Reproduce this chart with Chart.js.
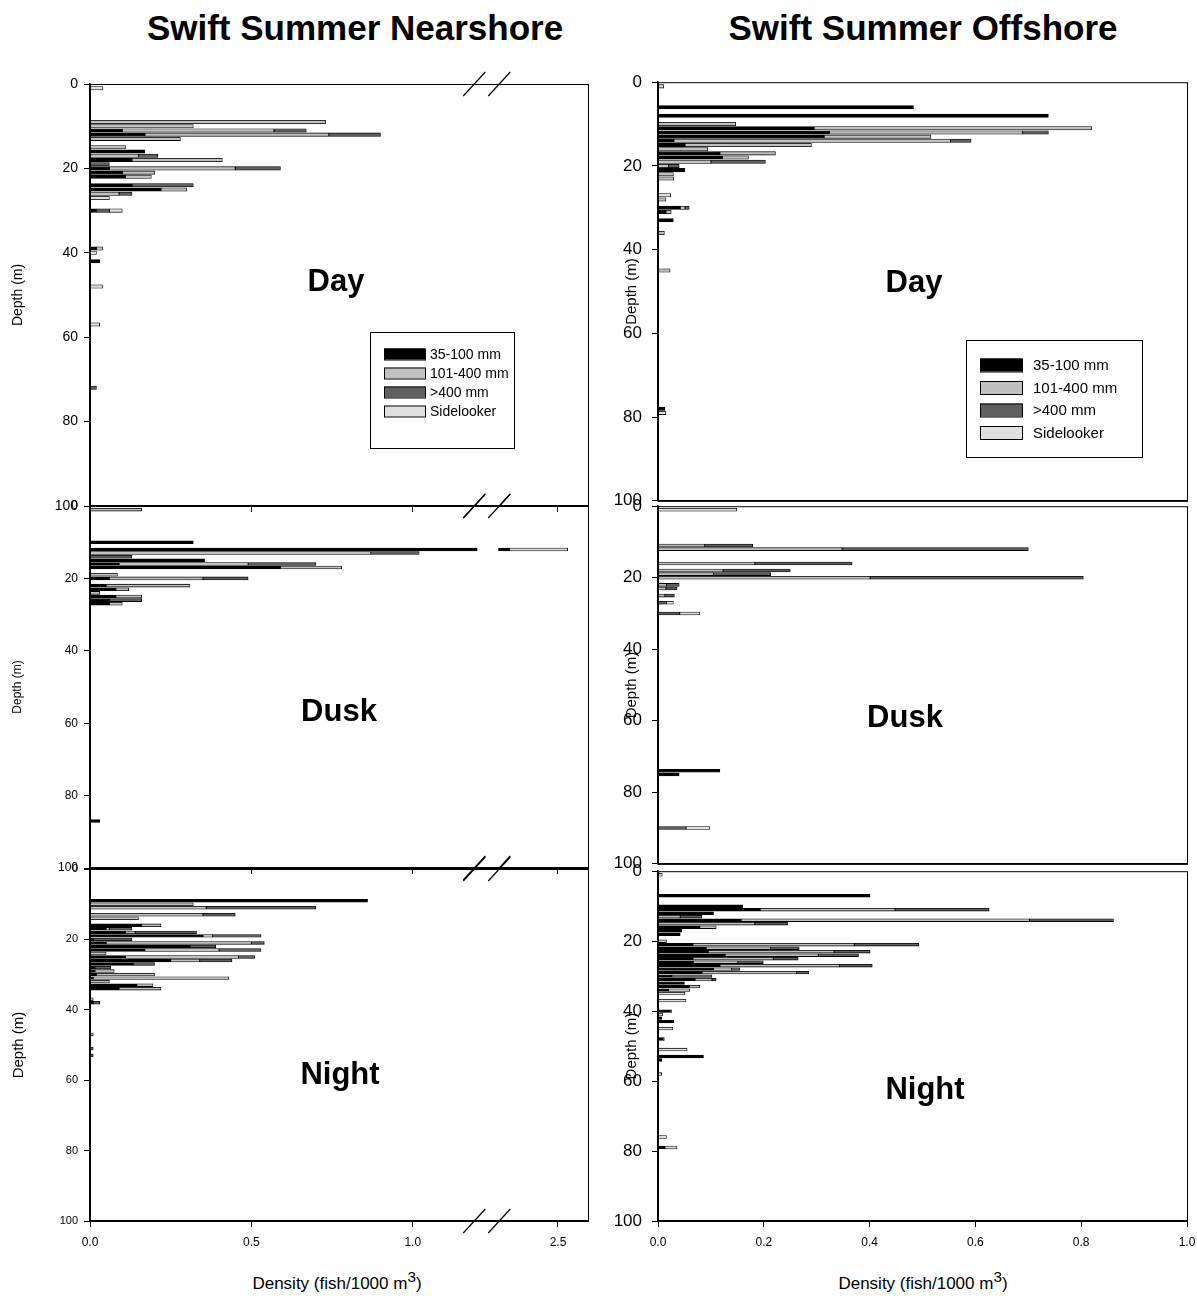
<!DOCTYPE html>
<html>
<head>
<meta charset="utf-8">
<script src="https://cdn.jsdelivr.net/npm/chart.js@4.4.0/dist/chart.umd.min.js"></script>
<style>
  body { margin: 0; background: #fff; width: 1197px; height: 1303px; position: relative; overflow: hidden;
         font-family: "Liberation Sans", Arial, sans-serif; }
  canvas { position: absolute; }
  .ttl { position: absolute; top: 28px; font-weight: bold; font-size: 35px; white-space: nowrap; transform: translate(-50%, -50%); }
  .xt { position: absolute; top: 1283px; font-size: 17px; white-space: nowrap; transform: translate(-50%, -50%); line-height: 1; }
  .xt sup { font-size: 90%; vertical-align: 0.45em; line-height: 0; }
</style>
</head>
<body>
<div class="ttl" style="left:355px">Swift Summer Nearshore</div>
<div class="ttl" style="left:923px">Swift Summer Offshore</div>
<div class="xt" style="left:337px">Density (fish/1000 m<sup>3</sup>)</div>
<div class="xt" style="left:923px">Density (fish/1000 m<sup>3</sup>)</div>
<script>
const FONT = '"Liberation Sans", Arial, sans-serif';
Chart.defaults.font.family = FONT;
Chart.defaults.color = '#000';

const seriesNames = ['35-100 mm', '101-400 mm', '>400 mm', 'Sidelooker'];
const seriesColors = ['#000000', '#c0c0c0', '#606060', '#e0e0e0'];

// ---- Nearshore, day ----
const nsDayDepth = [1, 9, 10, 11, 12, 13, 15, 16, 17, 18, 19, 20, 21, 22, 24, 25, 26, 27, 30, 39, 40, 42, 48, 57, 72];
const nsDaySmall = [0, 0, 0, 0.10, 0.17, 0, 0, 0.17, 0, 0.13, 0, 0.06, 0.10, 0.11, 0.13, 0.22, 0, 0, 0.02, 0.02, 0, 0.03, 0, 0, 0];
const nsDayMid   = [0, 0.73, 0.32, 0.47, 0.57, 0.28, 0.11, 0, 0.15, 0.28, 0, 0.39, 0.10, 0.08, 0, 0.08, 0.09, 0, 0, 0.02, 0, 0, 0, 0, 0];
const nsDayLarge = [0, 0, 0, 0.10, 0.16, 0, 0, 0, 0.06, 0, 0.06, 0.14, 0, 0, 0.19, 0, 0.04, 0, 0.04, 0, 0, 0, 0, 0, 0.02];
const nsDaySide  = [0.04, 0, 0, 0, 0, 0, 0, 0, 0, 0, 0, 0, 0, 0, 0, 0, 0, 0.06, 0.04, 0, 0.02, 0, 0.04, 0.03, 0];

// ---- Nearshore, dusk ----
const nsDuskDepth = [1, 10, 12, 13, 14, 15, 16, 17, 19, 20, 22, 23, 24, 25, 26, 27, 87];
const nsDuskSmall = [0, 0.32, 2.35, 0, 0, 0.355, 0.09, 0.59, 0, 0.06, 0.05, 0.08, 0, 0.08, 0.06, 0.06, 0.03];
const nsDuskMid   = [0.16, 0, 0, 0.87, 0, 0, 0.40, 0.19, 0.085, 0.29, 0.26, 0.04, 0.03, 0.08, 0, 0.04, 0];
const nsDuskLarge = [0, 0, 0, 0.15, 0.13, 0, 0.21, 0, 0, 0.14, 0, 0, 0, 0, 0.10, 0, 0];
const nsDuskSide  = [0, 0, 0.18, 0, 0, 0, 0, 0, 0, 0, 0, 0, 0, 0, 0, 0, 0];

// ---- Nearshore, night ----
const nsNightDepth = [9, 10, 11, 13, 14, 16, 17, 18, 19, 20, 21, 22, 23, 24, 25, 26, 27, 28, 29, 30, 31, 32, 33, 34, 37, 38, 47, 51, 53];
const nsNightSmall = [0.86, 0, 0, 0, 0, 0.16, 0.05, 0.11, 0.35, 0.01, 0.05, 0.31, 0.17, 0, 0.11, 0.25, 0.135, 0.015, 0.015, 0.02, 0.01, 0, 0.145, 0.09, 0, 0.01, 0, 0, 0];
const nsNightMid   = [0, 0.32, 0.36, 0.35, 0.15, 0.06, 0.01, 0.03, 0.03, 0, 0.45, 0, 0.23, 0.05, 0.35, 0.09, 0, 0, 0.06, 0.18, 0.42, 0.06, 0.05, 0.13, 0.01, 0, 0.01, 0, 0];
const nsNightLarge = [0, 0, 0.34, 0.10, 0, 0, 0.07, 0.19, 0.15, 0.12, 0.04, 0.08, 0.13, 0, 0.05, 0.10, 0.065, 0.05, 0, 0, 0, 0, 0, 0, 0, 0.02, 0, 0.01, 0.01];
const nsNightSide  = nsNightDepth.map(() => 0);

// ---- Offshore, day ----
const osDayDepth = [1, 6, 8, 10, 11, 12, 13, 14, 15, 16, 17, 18, 19, 20, 21, 22, 23, 27, 28, 30, 31, 33, 36, 45, 78, 79];
const osDaySmall = [0, 0.483, 0.738, 0, 0.295, 0.324, 0.314, 0.030, 0.051, 0, 0.117, 0.122, 0, 0, 0.051, 0, 0, 0, 0, 0.042, 0.015, 0.029, 0, 0, 0.013, 0];
const osDayMid   = [0, 0, 0, 0.147, 0.525, 0.365, 0.202, 0.523, 0.239, 0.094, 0.105, 0.049, 0.100, 0.020, 0, 0.029, 0.030, 0, 0.015, 0.009, 0.010, 0, 0.012, 0.023, 0, 0];
const osDayLarge = [0, 0, 0, 0, 0, 0.049, 0, 0.039, 0, 0, 0, 0, 0.103, 0.020, 0, 0, 0, 0, 0, 0.008, 0, 0, 0, 0, 0, 0];
const osDaySide  = [0.011, 0, 0, 0, 0, 0, 0, 0, 0, 0, 0, 0, 0, 0, 0, 0, 0, 0.024, 0, 0, 0, 0, 0, 0, 0, 0.015];

// ---- Offshore, dusk ----
const osDuskDepth = [1, 11, 12, 16, 18, 19, 20, 22, 23, 25, 27, 30, 74, 75, 90];
const osDuskSmall = [0, 0, 0, 0, 0, 0, 0, 0, 0, 0, 0, 0, 0.117, 0.040, 0];
const osDuskMid   = [0, 0.088, 0.348, 0.183, 0.123, 0.105, 0.401, 0.016, 0.015, 0.013, 0, 0, 0, 0, 0];
const osDuskLarge = [0, 0.091, 0.352, 0.184, 0.127, 0.108, 0.403, 0.024, 0.021, 0.018, 0.016, 0.041, 0, 0, 0.053];
const osDuskSide  = [0.149, 0, 0, 0, 0, 0, 0, 0, 0, 0, 0.013, 0.038, 0, 0, 0.045];

// ---- Offshore, night ----
const osNightDepth = [1, 7, 10, 11, 12, 13, 14, 15, 16, 17, 18, 20, 21, 22, 23, 24, 25, 26, 27, 28, 29, 30, 31, 32, 33, 34, 35, 37, 40, 41, 42, 43, 45, 48, 51, 53, 54, 58, 76, 79];
const osNightSmall = [0, 0.401, 0.160, 0.193, 0.105, 0, 0.157, 0, 0.079, 0.045, 0.042, 0, 0.066, 0.091, 0.095, 0.127, 0.066, 0.067, 0.117, 0.105, 0.083, 0.026, 0.070, 0.050, 0.059, 0.020, 0, 0, 0.023, 0, 0.007, 0.030, 0, 0.010, 0, 0.086, 0.007, 0, 0, 0.013];
const osNightMid   = [0, 0, 0, 0.255, 0, 0.042, 0.545, 0.183, 0.031, 0, 0, 0.016, 0.305, 0.122, 0.238, 0.176, 0.152, 0.084, 0.226, 0.034, 0.179, 0, 0.032, 0, 0.020, 0.040, 0, 0, 0, 0, 0, 0, 0, 0, 0, 0, 0, 0, 0, 0];
const osNightLarge = [0, 0, 0, 0.178, 0, 0.041, 0.159, 0.062, 0, 0, 0, 0, 0.122, 0.054, 0.068, 0.076, 0.047, 0.048, 0.062, 0.016, 0.023, 0.076, 0.008, 0, 0, 0, 0, 0, 0, 0, 0, 0, 0, 0, 0, 0, 0, 0, 0, 0];
const osNightSide  = [0.008, 0, 0, 0, 0, 0, 0, 0, 0, 0, 0, 0, 0, 0, 0, 0, 0, 0, 0, 0, 0, 0, 0, 0, 0, 0, 0.051, 0.053, 0.003, 0.009, 0, 0, 0.028, 0.002, 0.055, 0, 0, 0.007, 0.016, 0.023];

// nearshore density axis is broken between 1.2 and ~2.3
const BRK_LO = 1.2, BRK_GAP = 1.265, BRK_HI = 2.315;
const BRK_SHIFT = BRK_HI - BRK_GAP;
const nearX = v => v <= BRK_LO ? v : (v >= BRK_HI ? v - BRK_SHIFT : BRK_LO);
const nearXInv = v => v <= BRK_LO ? v : v + BRK_SHIFT;
const plainX = v => v;

// stacked segments as floating bars so the broken axis can map each edge
function buildDatasets(depth, cols, fx) {
  return cols.map((vals, k) => ({
    label: seriesNames[k],
    backgroundColor: seriesColors[k],
    data: depth.map((d, i) => {
      let lo = 0;
      for (let j = 0; j < k; j++) lo += cols[j][i];
      return vals[i] > 0 ? { y: d, x: [fx(lo), fx(lo + vals[i])] } : null;
    }).filter(p => p)
  }));
}

const panelDeco = {
  id: 'panelDeco',
  afterDatasetsDraw(chart, args, o) {
    if (!o.broken) return;
    const { ctx, chartArea: a, scales: { x } } = chart;
    const x1 = x.getPixelForValue(BRK_LO), x2 = x.getPixelForValue(BRK_GAP);
    ctx.save();
    ctx.fillStyle = '#fff';
    ctx.fillRect(x1, a.top + 1, x2 - x1, a.bottom - a.top - 2);
    ctx.restore();
  },
  afterDraw(chart, args, o) {
    const { ctx, chartArea: a, scales: { x } } = chart;
    ctx.save();
    ctx.strokeStyle = '#000';
    ctx.lineWidth = 1;
    ctx.strokeRect(a.left + 0.5, a.top + 0.5, a.right - a.left, a.bottom - a.top);
    if (o.broken) {
      const xs = [x.getPixelForValue(BRK_LO) - 3, x.getPixelForValue(BRK_GAP) + 1];
      ctx.lineWidth = 1.2;
      [a.top, a.bottom].forEach(yy => {
        xs.forEach(xx => {
          ctx.beginPath();
          ctx.moveTo(xx - 11, yy + 12);
          ctx.lineTo(xx + 11, yy - 12);
          ctx.stroke();
        });
      });
    }
    ctx.fillStyle = '#000';
    ctx.font = 'bold 31px ' + FONT;
    ctx.textAlign = 'center';
    ctx.textBaseline = 'middle';
    ctx.fillText(o.label, o.labelX, o.labelY);
    if (o.legend) {
      const L = o.legend;
      ctx.lineWidth = 1;
      ctx.strokeRect(L.x + 0.5, L.y + 0.5, L.w, L.h);
      ctx.font = L.font + 'px ' + FONT;
      ctx.textAlign = 'left';
      chart.data.datasets.forEach((ds, i) => {
        const cy = L.row0 + i * L.step;
        ctx.fillStyle = ds.backgroundColor;
        ctx.fillRect(L.sx, cy - L.sh / 2, L.sw, L.sh);
        ctx.strokeRect(L.sx + 0.5, cy - L.sh / 2 + 0.5, L.sw, L.sh);
        ctx.fillStyle = '#000';
        ctx.fillText(ds.label, L.tx, cy + 1);
      });
    }
    ctx.restore();
  }
};

function panel(p) {
  const c = document.createElement('canvas');
  c.width = p.w; c.height = p.h;
  c.style.left = p.left + 'px'; c.style.top = p.top + 'px';
  document.body.appendChild(c);
  const near = p.near;
  const leg = p.legend ? Object.assign({}, p.legend, {
    x: p.legend.x - p.left, y: p.legend.y - p.top, sx: p.legend.sx - p.left,
    tx: p.legend.tx - p.left, row0: p.legend.row0 - p.top
  }) : null;
  new Chart(c, {
    type: 'bar',
    data: { datasets: buildDatasets(p.depth, p.cols, near ? nearX : plainX) },
    options: {
      responsive: false,
      animation: false,
      indexAxis: 'y',
      layout: { padding: { top: p.padTop, right: p.padRight, left: 0, bottom: 0 } },
      datasets: { bar: { barThickness: p.bar, grouped: false, borderColor: '#000', borderWidth: 0.8, borderSkipped: false } },
      plugins: {
        legend: { display: false },
        tooltip: { enabled: false },
        panelDeco: { broken: near, label: p.label, labelX: p.labelX - p.left, labelY: p.labelY - p.top, legend: leg }
      },
      scales: {
        y: {
          type: 'linear', reverse: true, min: 0, max: 100, offset: false,
          ticks: { stepSize: 20, color: '#000', padding: p.tickPad, font: { size: p.yTickSize } },
          grid: { drawOnChartArea: false, tickLength: 6, color: '#000', offset: false },
          border: { color: '#000', width: 1.5 },
          title: { display: true, text: 'Depth (m)', color: '#000', font: { size: p.yTitleSize }, padding: { top: p.titlePad, bottom: 0 } },
          afterFit: s => { s.width = p.yw; }
        },
        x: {
          type: 'linear', min: 0, max: near ? 1.543 : 1.0,
          ticks: {
            display: p.showX, color: '#000', padding: 8, font: { size: 12 },
            stepSize: 0.2,
            callback: v => (near ? nearXInv(v) : v).toFixed(1)
          },
          afterBuildTicks: near ? s => { s.ticks = [0, 0.5, 1.0, nearX(2.5)].map(v => ({ value: v })); } : undefined,
          grid: { drawOnChartArea: false, drawTicks: near || p.showX, tickLength: 6, color: '#000' },
          border: { color: '#000', width: 1.5 },
          afterFit: s => { s.height = p.xh; }
        }
      }
    },
    plugins: [panelDeco]
  });
}

const leftBase = { left: 0, w: 600, yw: 90, padRight: 12, near: true, tickPad: 6, titlePad: 10 };
const rightBase = { left: 600, w: 630, yw: 58, padRight: 43, near: false, tickPad: 10, titlePad: 23, yTickSize: 17, yTitleSize: 15 };

panel(Object.assign({}, leftBase, {
  top: 64, h: 457, padTop: 20, xh: 15, showX: false, bar: 3.4, yTickSize: 14, yTitleSize: 14,
  depth: nsDayDepth, cols: [nsDaySmall, nsDayMid, nsDayLarge, nsDaySide],
  label: 'Day', labelX: 336, labelY: 282,
  legend: { x: 370, y: 332, w: 144, h: 116, sx: 384, sw: 41, sh: 11, tx: 430, row0: 354, step: 19, font: 14 }
}));
panel(Object.assign({}, leftBase, {
  top: 486, h: 397, padTop: 20, xh: 15, showX: false, bar: 2.9, yTickSize: 12, yTitleSize: 12,
  depth: nsDuskDepth, cols: [nsDuskSmall, nsDuskMid, nsDuskLarge, nsDuskSide],
  label: 'Dusk', labelX: 339, labelY: 712
}));
panel(Object.assign({}, leftBase, {
  top: 849, h: 413, padTop: 20, xh: 41, showX: true, bar: 2.8, yTickSize: 11, yTitleSize: 15,
  depth: nsNightDepth, cols: [nsNightSmall, nsNightMid, nsNightLarge, nsNightSide],
  label: 'Night', labelX: 340, labelY: 1075
}));
panel(Object.assign({}, rightBase, {
  top: 62, h: 459, padTop: 20, xh: 15, showX: false, bar: 3.4,
  depth: osDayDepth, cols: [osDaySmall, osDayMid, osDayLarge, osDaySide],
  label: 'Day', labelX: 914, labelY: 283,
  legend: { x: 966, y: 340, w: 176, h: 117, sx: 980, sw: 42, sh: 13, tx: 1033, row0: 365, step: 22.5, font: 15 }
}));
panel(Object.assign({}, rightBase, {
  top: 486, h: 398, padTop: 20, xh: 15, showX: false, bar: 2.9,
  depth: osDuskDepth, cols: [osDuskSmall, osDuskMid, osDuskLarge, osDuskSide],
  label: 'Dusk', labelX: 905, labelY: 718
}));
panel(Object.assign({}, rightBase, {
  top: 851, h: 411, padTop: 20, xh: 41, showX: true, bar: 2.8,
  depth: osNightDepth, cols: [osNightSmall, osNightMid, osNightLarge, osNightSide],
  label: 'Night', labelX: 925, labelY: 1090
}));
</script>
</body>
</html>
